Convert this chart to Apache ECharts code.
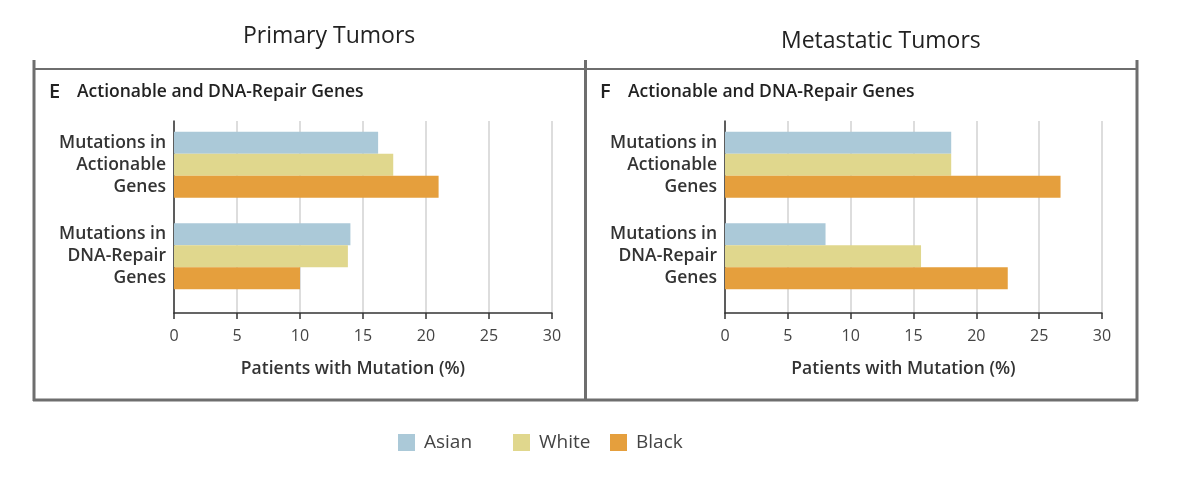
<!DOCTYPE html>
<html>
<head>
<meta charset="utf-8">
<script src="https://cdn.jsdelivr.net/npm/echarts@6/dist/echarts.min.js"></script>
<style>html,body{margin:0;padding:0;background:#fff;}#c{width:1200px;height:482px;}</style>
</head>
<body>
<div id="c"></div>
<script>
const categories = ['Mutations in\nActionable\nGenes', 'Mutations in\nDNA-Repair\nGenes'];
const xTicks = [0, 5, 10, 15, 20, 25, 30];
const seriesNames = ['Asian', 'White', 'Black'];
const primaryAsian = [16.2, 14.0];
const primaryWhite = [17.4, 13.8];
const primaryBlack = [21.0, 10.0];
const metaAsian = [18.0, 8.0];
const metaWhite = [18.0, 15.6];
const metaBlack = [26.7, 22.5];
const panelTitles = ['Primary Tumors', 'Metastatic Tumors'];
const panelLetters = ['E', 'F'];
const panelSubtitle = 'Actionable and DNA-Repair Genes';
const xAxisName = 'Patients with Mutation (%)';

const colors = ['#abc9d8', '#e0d78d', '#e59f3d'];
const FONT = '"Open Sans", "DejaVu Sans", sans-serif';
const chart = echarts.init(document.getElementById('c'));

const panels = [
  {left: 174, right: 1200 - 552, data: [primaryAsian, primaryWhite, primaryBlack]},
  {left: 725, right: 1200 - 1102, data: [metaAsian, metaWhite, metaBlack]}
];

const grid = [], xAxis = [], yAxis = [], series = [];
panels.forEach((p, i) => {
  grid.push({left: p.left, right: p.right, top: 121, bottom: 482 - 313, containLabel: false});
  grid.push({left: p.left, right: p.right, top: 119, bottom: 482 - 302, containLabel: false});
  const ga = i * 2, gb = i * 2 + 1;
  xAxis.push({
    gridIndex: ga, type: 'value', min: xTicks[0], max: xTicks[xTicks.length - 1], interval: 5,
    axisLine: {show: true, lineStyle: {color: '#333', width: 1.5}},
    axisTick: {show: true, length: 6, lineStyle: {color: '#333', width: 1.5}},
    axisLabel: {margin: 15, color: '#444', fontSize: 16, fontFamily: FONT},
    splitLine: {show: true, lineStyle: {color: '#d2d2d2', width: 1.5}},
    name: xAxisName, nameLocation: 'middle', nameGap: 47,
    nameTextStyle: {fontSize: 17.5, fontWeight: 600, color: '#333', fontFamily: FONT, padding: [0, 20, 0, 0]}
  });
  xAxis.push({
    gridIndex: gb, type: 'value', min: xTicks[0], max: xTicks[xTicks.length - 1], interval: 5,
    show: false
  });
  yAxis.push({
    gridIndex: ga, type: 'category', data: categories, inverse: true,
    axisLine: {show: true, onZero: false, lineStyle: {color: '#333', width: 1.5}},
    axisTick: {show: false}, axisLabel: {show: false}, splitLine: {show: false}
  });
  yAxis.push({
    gridIndex: gb, type: 'category', data: categories, inverse: true,
    axisLine: {show: false}, axisTick: {show: false}, splitLine: {show: false},
    axisLabel: {margin: 8, color: '#333', fontSize: 17.5, fontWeight: 600, lineHeight: 22,
      align: 'right', fontFamily: FONT}
  });
  p.data.forEach((vals, k) => {
    series.push({
      name: seriesNames[k], type: 'bar', xAxisIndex: gb, yAxisIndex: gb,
      data: vals, barWidth: 22, barGap: '0%', itemStyle: {color: colors[k]},
      silent: true
    });
  });
});

const frame = '#6e6e6e';
const graphic = [
  {type: 'line', shape: {x1: 33, y1: 69, x2: 1137, y2: 69}, style: {stroke: frame, lineWidth: 2}},
  {type: 'line', shape: {x1: 34, y1: 60, x2: 34, y2: 401}, style: {stroke: frame, lineWidth: 3}},
  {type: 'line', shape: {x1: 585.5, y1: 60, x2: 585.5, y2: 401}, style: {stroke: frame, lineWidth: 3}},
  {type: 'line', shape: {x1: 1137, y1: 60, x2: 1137, y2: 401}, style: {stroke: frame, lineWidth: 3}},
  {type: 'line', shape: {x1: 33, y1: 400, x2: 1138, y2: 400}, style: {stroke: frame, lineWidth: 3}},
  {type: 'text', left: 243, top: 25, style: {text: panelTitles[0], fontSize: 23, fontFamily: FONT, fill: '#222'}},
  {type: 'text', left: 781, top: 30, style: {text: panelTitles[1], fontSize: 23, fontFamily: FONT, fill: '#222'}},
  {type: 'text', left: 49, top: 82, style: {text: panelLetters[0], fontSize: 20, fontWeight: 600, fontFamily: FONT, fill: '#222'}},
  {type: 'text', left: 77, top: 83, style: {text: panelSubtitle, fontSize: 17.5, fontWeight: 600, fontFamily: FONT, fill: '#222'}},
  {type: 'text', left: 600, top: 82, style: {text: panelLetters[1], fontSize: 20, fontWeight: 600, fontFamily: FONT, fill: '#222'}},
  {type: 'text', left: 628, top: 83, style: {text: panelSubtitle, fontSize: 17.5, fontWeight: 600, fontFamily: FONT, fill: '#222'}}
];

const legendLefts = [398, 513, 610];
const legend = seriesNames.map((n, k) => ({
  data: [n], left: legendLefts[k], top: 433, padding: 0, icon: 'rect', itemWidth: 17, itemHeight: 17,
  selectedMode: false,
  textStyle: {fontSize: 19, color: '#444', fontFamily: FONT, padding: [0, 0, 0, 4]}
}));

chart.setOption({
  animation: false,
  grid, xAxis, yAxis, series, graphic, legend
});
</script>
</body>
</html>
